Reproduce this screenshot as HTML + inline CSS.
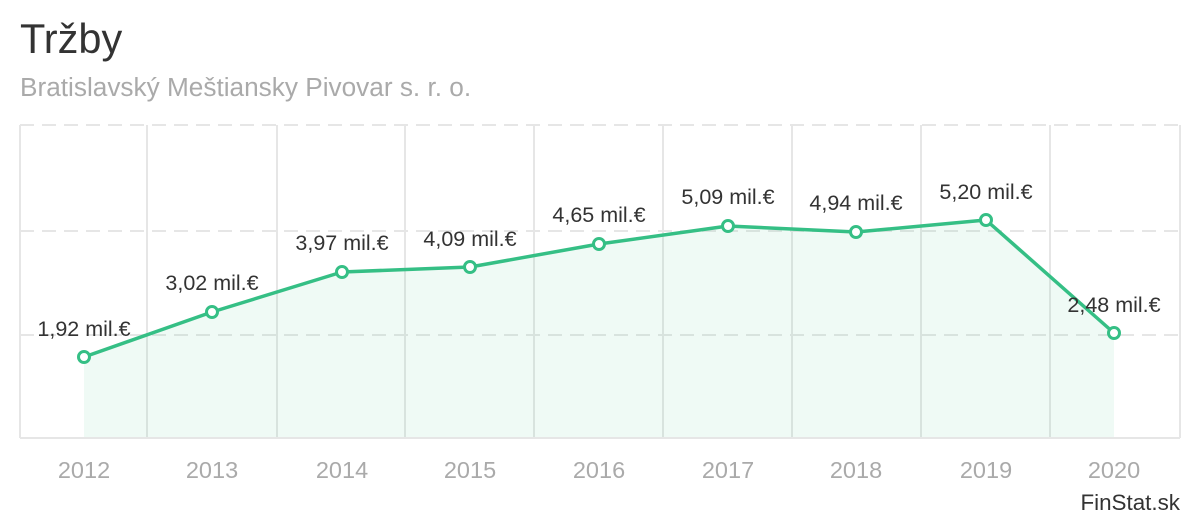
<!DOCTYPE html>
<html><head><meta charset="utf-8"><style>
body{margin:0;background:#fff;width:1200px;height:520px;overflow:hidden;font-family:"Liberation Sans",sans-serif}
</style></head><body>
<svg width="1200" height="520" xmlns="http://www.w3.org/2000/svg" font-family="Liberation Sans, sans-serif">
<text x="20" y="53" font-size="41.5" fill="#333">Tržby</text>
<text x="20" y="96" font-size="26.2" fill="#aaa">Bratislavský Meštiansky Pivovar s. r. o.</text>
<g stroke="#e6e6e6" stroke-width="2" fill="none">
<line x1="20" y1="125" x2="1180" y2="125" stroke-dasharray="14,8"/>
<line x1="20" y1="231" x2="1180" y2="231" stroke-dasharray="14,8"/>
<line x1="20" y1="335" x2="1180" y2="335" stroke-dasharray="14,8"/>
<line x1="20" y1="125" x2="20" y2="438"/>
<line x1="147" y1="125" x2="147" y2="438"/>
<line x1="277" y1="125" x2="277" y2="438"/>
<line x1="405" y1="125" x2="405" y2="438"/>
<line x1="534" y1="125" x2="534" y2="438"/>
<line x1="663" y1="125" x2="663" y2="438"/>
<line x1="792" y1="125" x2="792" y2="438"/>
<line x1="921" y1="125" x2="921" y2="438"/>
<line x1="1050" y1="125" x2="1050" y2="438"/>
<line x1="1180" y1="125" x2="1180" y2="438"/>
<line x1="20" y1="438" x2="1180" y2="438"/>
</g>
<polygon points="84,357 212,312 342,272 470,267 599,244 728,226 856,232 986,220 1114,333 1114,437 84,437" fill="#35bf85" fill-opacity="0.08"/>
<polyline points="84,357 212,312 342,272 470,267 599,244 728,226 856,232 986,220 1114,333" fill="none" stroke="#35bf85" stroke-width="3.5" stroke-linejoin="round"/>
<g fill="#fff" stroke="#35bf85" stroke-width="3">
<circle cx="84" cy="357" r="5.5"/><circle cx="212" cy="312" r="5.5"/><circle cx="342" cy="272" r="5.5"/><circle cx="470" cy="267" r="5.5"/><circle cx="599" cy="244" r="5.5"/><circle cx="728" cy="226" r="5.5"/><circle cx="856" cy="232" r="5.5"/><circle cx="986" cy="220" r="5.5"/><circle cx="1114" cy="333" r="5.5"/>
</g>
<g font-size="21.5" fill="#333" text-anchor="middle">
<text x="84" y="336">1,92 mil.€</text>
<text x="212" y="290">3,02 mil.€</text>
<text x="342" y="250">3,97 mil.€</text>
<text x="470" y="246">4,09 mil.€</text>
<text x="599" y="222">4,65 mil.€</text>
<text x="728" y="204">5,09 mil.€</text>
<text x="856" y="210">4,94 mil.€</text>
<text x="986" y="199">5,20 mil.€</text>
<text x="1114" y="312">2,48 mil.€</text>
</g>
<g font-size="23.5" fill="#aaa" text-anchor="middle">
<text x="84" y="478">2012</text><text x="212" y="478">2013</text><text x="342" y="478">2014</text><text x="470" y="478">2015</text><text x="599" y="478">2016</text><text x="728" y="478">2017</text><text x="856" y="478">2018</text><text x="986" y="478">2019</text><text x="1114" y="478">2020</text>
</g>
<text x="1180" y="510" font-size="22.4" fill="#333" text-anchor="end">FinStat.sk</text>
</svg>
</body></html>
